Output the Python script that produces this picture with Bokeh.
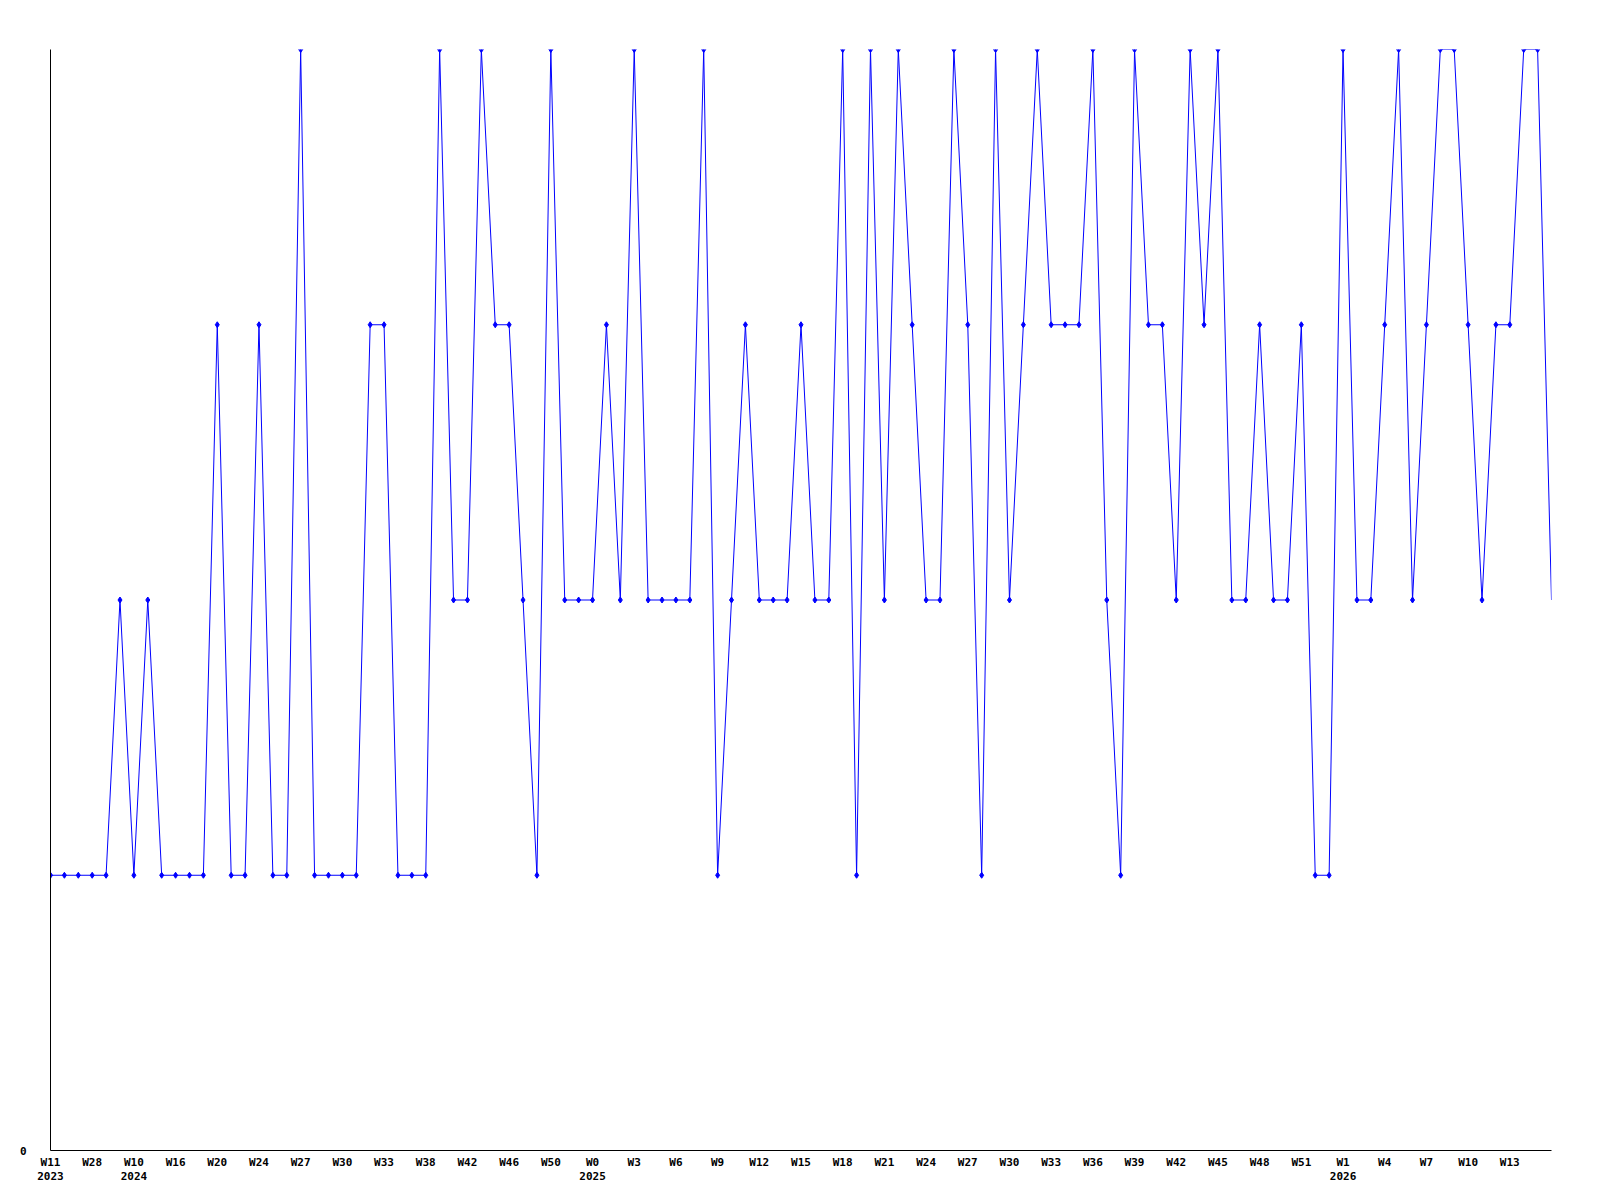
from bokeh.plotting import figure
from bokeh.models import Range1d, FixedTicker, LinearAxis, ColumnDataSource
from bokeh.embed import file_html
from bokeh.resources import INLINE

# Weekly values (one per week, in order)
values = [1, 1, 1, 1, 1, 2, 1, 2, 1, 1,
          1, 1, 3, 1, 1, 3, 1, 1, 4, 1,
          1, 1, 1, 3, 3, 1, 1, 1, 4, 2,
          2, 4, 3, 3, 2, 1, 4, 2, 2, 2,
          3, 2, 4, 2, 2, 2, 2, 4, 1, 2,
          3, 2, 2, 2, 3, 2, 2, 4, 1, 4,
          2, 4, 3, 2, 2, 4, 3, 1, 4, 2,
          3, 4, 3, 3, 3, 4, 2, 1, 4, 3,
          3, 2, 4, 3, 4, 2, 2, 3, 2, 2,
          3, 1, 1, 4, 2, 2, 3, 4, 2, 3,
          4, 4, 3, 2, 3, 3, 4, 4, 2]

# Tick labels (every third week)
week_labels = ["W11", "W28", "W10", "W16", "W20", "W24", "W27", "W30", "W33",
               "W38", "W42", "W46", "W50", "W0", "W3", "W6", "W9", "W12",
               "W15", "W18", "W21", "W24", "W27", "W30", "W33", "W36", "W39",
               "W42", "W45", "W48", "W51", "W1", "W4", "W7", "W10", "W13"]
label_step = 3

# Year labels and the week index where each starts
year_labels = ["2023", "2024", "2025", "2026"]
year_positions = [0, 6, 39, 93]

y_labels = ["0"]
y_label_positions = [0]

n = len(values)
xs = list(range(n))

p = figure(width=1592, height=1192, output_backend="svg", toolbar_location=None,
           x_range=Range1d(0, n - 1), y_range=Range1d(0, 4),
           min_border_left=50, min_border_right=41, min_border_top=49,
           min_border_bottom=42, x_axis_location=None, y_axis_location=None)
p.background_fill_color = "white"
p.border_fill_color = "white"
p.outline_line_color = None
p.xgrid.visible = False
p.ygrid.visible = False

font = "DejaVu Sans Mono"

# Week axis
tick_pos = [i * label_step for i in range(len(week_labels))]
xa = LinearAxis(ticker=FixedTicker(ticks=tick_pos))
xa.major_label_overrides = {t: lab for t, lab in zip(tick_pos, week_labels)}
xa.major_tick_line_color = None
xa.minor_tick_line_color = None
xa.major_tick_out = 0
xa.major_tick_in = 0
xa.major_label_standoff = 5
xa.axis_line_color = "black"
xa.major_label_text_font = font
xa.major_label_text_font_style = "bold"
xa.major_label_text_font_size = "11px"
xa.major_label_text_color = "black"
p.add_layout(xa, "below")

# Year axis
ya2 = LinearAxis(ticker=FixedTicker(ticks=year_positions))
ya2.major_label_overrides = {t: lab for t, lab in zip(year_positions, year_labels)}
ya2.major_tick_line_color = None
ya2.minor_tick_line_color = None
ya2.major_tick_out = 0
ya2.major_tick_in = 0
ya2.major_label_standoff = 0
ya2.axis_line_color = None
ya2.major_label_text_font = font
ya2.major_label_text_font_style = "bold"
ya2.major_label_text_font_size = "11px"
ya2.major_label_text_color = "black"
p.add_layout(ya2, "below")

# Y axis
yax = LinearAxis(ticker=FixedTicker(ticks=y_label_positions))
yax.major_label_overrides = {t: lab for t, lab in zip(y_label_positions, y_labels)}
yax.major_tick_line_color = None
yax.minor_tick_line_color = None
yax.major_tick_out = 0
yax.major_tick_in = 0
yax.major_label_standoff = 24
yax.axis_line_color = "black"
yax.major_label_text_font = font
yax.major_label_text_font_style = "bold"
yax.major_label_text_font_size = "11px"
yax.major_label_text_color = "black"
p.add_layout(yax, "left")

src = ColumnDataSource(dict(x=xs, y=values))
p.line("x", "y", source=src, line_color="#0000ff", line_width=1)
msrc = ColumnDataSource(dict(x=xs[:-1], y=values[:-1]))
p.scatter("x", "y", source=msrc, marker="diamond", size=6,
          fill_color="#0000ff", line_color="#0000ff")

open("out.html", "w").write(file_html(p, INLINE))
